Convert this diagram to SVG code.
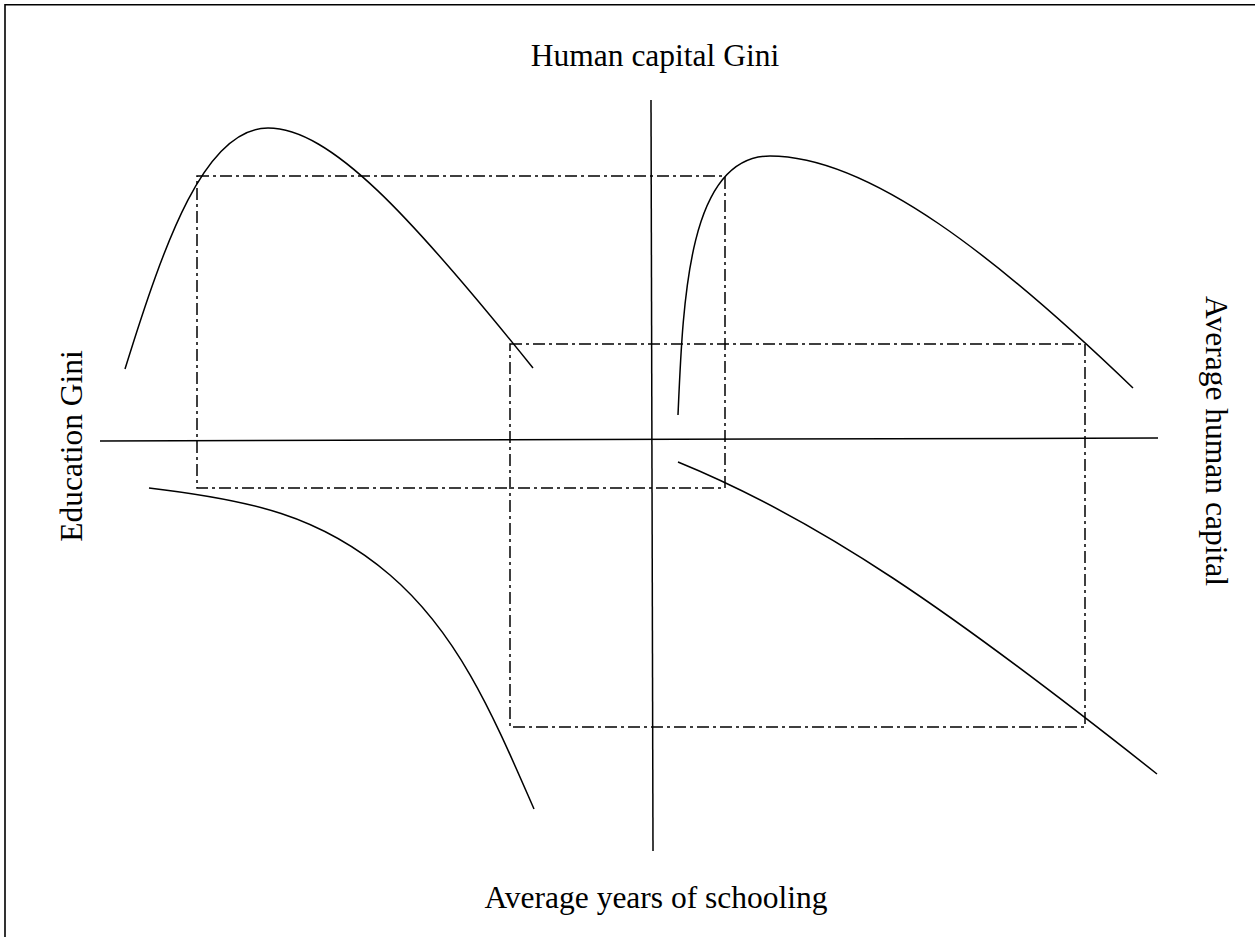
<svg xmlns="http://www.w3.org/2000/svg" width="1255" height="937" viewBox="0 0 1255 937">
<style>
.frame{stroke:#000;stroke-width:1.6;fill:none}
.axis{stroke:#000;stroke-width:1.5;fill:none}
.curve{stroke:#000;stroke-width:1.5;fill:none}
.box{stroke:#000;stroke-width:1.5;fill:none;stroke-dasharray:12 4 3 4}
.lbl{font-family:"Liberation Serif","Times New Roman",serif;font-size:31.5px;fill:#000}
</style>
<rect width="1255" height="937" fill="#fff"/>
<g id="frame">
<path class="frame" d="M5,937 V4.8 H1255"/>
</g>
<g id="connectors">
<line class="axis" x1="100" y1="441" x2="1158" y2="438"/>
<line class="axis" x1="651" y1="100" x2="653" y2="851"/>
<path class="curve" d="M125,369 C165,240 205,128 268,128 C330,128 410,215 533,368"/>
<path class="curve" d="M678,415 C683,300 688,156 770,156 C870,156 1000,260 1133,388"/>
<path class="curve" d="M149,488 C250,500 320,515 390,575 C460,635 495,720 534,809"/>
<path class="curve" d="M678,462 C820,520 950,610 1157,774"/>
</g>
<g id="box1"><rect class="box" x="197" y="176" width="528" height="312"/></g>
<g id="box2"><rect class="box" x="510" y="344" width="575" height="383"/></g>
<g id="label-top"><text class="lbl" x="655" y="66" text-anchor="middle">Human capital Gini</text></g>
<g id="label-bottom"><text class="lbl" x="656" y="908" text-anchor="middle">Average years of schooling</text></g>
<g id="label-left"><text class="lbl" transform="translate(82,446) rotate(-90)" text-anchor="middle">Education Gini</text></g>
<g id="label-right"><text class="lbl" transform="translate(1206,441) rotate(90)" text-anchor="middle">Average human capital</text></g>
</svg>
